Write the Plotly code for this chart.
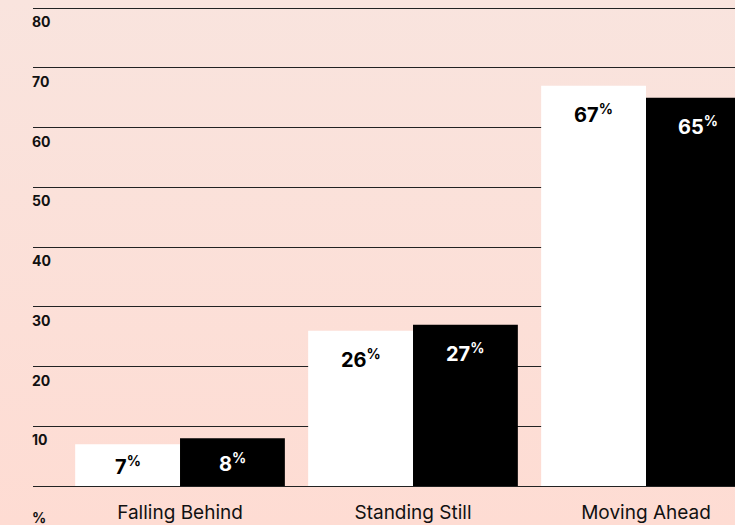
import base64
import plotly.graph_objects as go

# Data
categories = ['Falling Behind', 'Standing Still', 'Moving Ahead']
series_a = [7, 26, 67]   # white bars
series_b = [8, 27, 65]   # black bars
y_ticks = [10, 20, 30, 40, 50, 60, 70, 80]

FONT = 'Inter, Lato, sans-serif'

# soft vertical gradient for the page background
svg = (
    '<svg xmlns="http://www.w3.org/2000/svg" width="10" height="100" preserveAspectRatio="none">'
    '<defs><linearGradient id="g" x1="0" y1="0" x2="0" y2="1">'
    '<stop offset="0" stop-color="#F9E4DE"/><stop offset="1" stop-color="#FEDCD3"/>'
    '</linearGradient></defs><rect width="10" height="100" fill="url(#g)"/></svg>'
)
bg_src = 'data:image/svg+xml;base64,' + base64.b64encode(svg.encode()).decode()

fig = go.Figure()
fig.add_trace(go.Bar(x=categories, y=series_a, marker_color='#FFFFFF',
                     marker_line_width=0, name='A', hoverinfo='skip'))
fig.add_trace(go.Bar(x=categories, y=series_b, marker_color='#000000',
                     marker_line_width=0, name='B', hoverinfo='skip'))

# value labels inside bars: near the top, or centred for short bars
annotations = []
for i, cat in enumerate(categories):
    for j, (vals, col) in enumerate([(series_a, '#000000'), (series_b, '#FFFFFF')]):
        v = vals[i]
        annotations.append(dict(
            x=i + (-0.224 if j == 0 else 0.224), y=max(v - 4.6, v / 2),
            xref='x', yref='y', text=f'<b>{v}<sup>%</sup></b>', showarrow=False,
            font=dict(family=FONT, size=20, color=col),
            xanchor='center', yanchor='middle',
        ))

# y tick labels sit just under their grid lines
for t in y_ticks:
    annotations.append(dict(
        x=0, y=t, xref='paper', yref='y', text=f'<b>{t}</b>', showarrow=False,
        font=dict(family=FONT, size=14, color='#111111'),
        xanchor='left', yanchor='top', yshift=-3, xshift=-3,
    ))
annotations.append(dict(
    x=0, y=-0.064, xref='paper', yref='paper', text='<b>%</b>', showarrow=False,
    font=dict(family=FONT, size=14, color='#111111'),
    xanchor='left', yanchor='middle', xshift=-3,
))

fig.update_layout(
    width=735, height=525,
    margin=dict(l=33, r=0, t=0, b=39),
    paper_bgcolor='#FCE0D8', plot_bgcolor='rgba(0,0,0,0)',
    barmode='group', bargap=0.1, bargroupgap=0,
    showlegend=False,
    annotations=annotations,
    images=[dict(source=bg_src, xref='paper', yref='paper', x=-33 / 702, y=1,
                 sizex=735 / 702, sizey=525 / 486, xanchor='left', yanchor='top',
                 sizing='stretch', layer='below')],
    xaxis=dict(
        range=[-0.631, 2.382], showgrid=False, zeroline=False,
        showline=True, linecolor='#222222', linewidth=1,
        ticks='', ticklabelstandoff=9, automargin=False,
        tickfont=dict(family=FONT, size=19, color='#111111'),
    ),
    yaxis=dict(
        range=[0, 81.34], tickvals=y_ticks, showticklabels=False,
        showgrid=True, gridcolor='#222222', gridwidth=1, zeroline=False,
        automargin=False,
    ),
)

# drop the default page margin so the figure fills the window
fig.write_html('out.html', config={'displayModeBar': False},
               post_script="document.body.style.margin='0';")
